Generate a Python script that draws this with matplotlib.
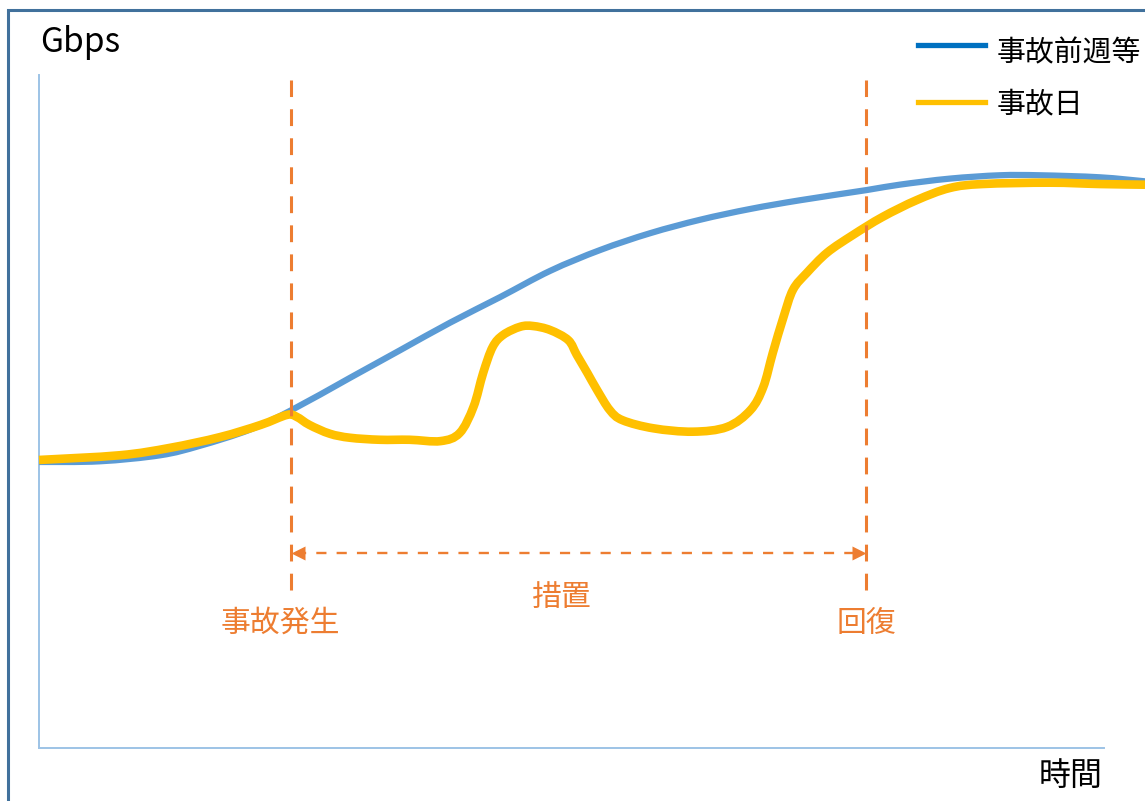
import matplotlib
matplotlib.use("Agg")
import numpy as np
import matplotlib.pyplot as plt
from matplotlib.lines import Line2D
from matplotlib.patches import Rectangle, PathPatch
from matplotlib.path import Path

plt.rcParams['font.family'] = ['Noto Sans CJK JP', 'DejaVu Sans']

# ---- data (time in arbitrary units 0-100, traffic in arbitrary Gbps units) ----
baseline_x = [0, 5.7, 11.4, 15.1, 19.8, 23.7, 29.2, 33.9, 38.6, 43.3, 48.0, 52.7,
              57.4, 62.1, 66.8, 71.5, 77.7, 80.8, 85.5, 90.2, 94.0, 99.6, 103.85]
baseline_y = [42.5, 42.6, 43.5, 44.9, 47.3, 50.2, 55.0, 59.1, 63.2, 67.0, 70.9, 74.0,
              76.5, 78.5, 80.1, 81.4, 82.9, 83.7, 84.6, 85.1, 85.1, 84.8, 84.2]

incident_x = [0, 7.6, 12.3, 17.0, 20.8, 23.3, 24.2, 25.4, 27.3, 29.2, 32.0, 34.8, 37.7,
              39.5, 40.8, 41.7, 42.6, 43.6, 45.2, 46.4, 48.0, 49.7, 50.5, 51.5, 52.4,
              53.6, 54.8, 57.7, 61.4, 64.6, 66.8, 68.0, 68.9, 69.9, 70.8, 72.1, 74.0,
              76.4, 79.2, 82.4, 85.5, 88.6, 94.9, 99.6, 103.85]
incident_y = [42.8, 43.5, 44.6, 46.2, 48.0, 49.5, 49.2, 48.0, 46.7, 46.1, 45.8, 45.8, 45.6,
              46.8, 50.7, 55.7, 59.6, 61.4, 62.6, 62.7, 62.1, 60.6, 58.4, 55.7, 53.2,
              50.2, 48.7, 47.5, 47.0, 47.7, 50.2, 53.6, 58.7, 64.0, 68.1, 70.6, 73.6,
              76.2, 78.9, 81.4, 83.2, 83.8, 84.0, 83.8, 83.7]

event_x = [23.66, 77.65]          # 事故発生, 回復
event_labels = ['事故発生', '回復']
measure_label = '措置'
series_labels = ['事故前週等', '事故日']
y_label = 'Gbps'
x_label = '時間'

orange = '#ED7D31'
blue = '#5B9BD5'
blue_legend = '#0070C0'
yellow = '#FFC000'
spine_c = '#9DC3E6'


def smooth_path(xs, ys):
    """Smoothed-line rendering (Catmull-Rom as cubic Bezier) through the data points."""
    p = np.column_stack([xs, ys]).astype(float)
    n = len(p)
    verts = [p[0]]
    codes = [Path.MOVETO]
    for i in range(n - 1):
        p0 = p[i - 1] if i > 0 else p[i]
        p1, p2 = p[i], p[i + 1]
        p3 = p[i + 2] if i + 2 < n else p[i + 1]
        c1 = p1 + (p2 - p0) / 6.0
        c2 = p2 - (p3 - p1) / 6.0
        verts += [c1, c2, p2]
        codes += [Path.CURVE4] * 3
    return Path(verts, codes)


W, H = 1145, 801
fig = plt.figure(figsize=(W / 100, H / 100), dpi=100)
ax = fig.add_axes([39 / W, (H - 748) / H, (W - 39) / W, (748 - 75) / H])
ax.set_xlim(0, 103.85)
ax.set_ylim(0, 100)
ax.set_xticks([])
ax.set_yticks([])
for s in ['top', 'right']:
    ax.spines[s].set_visible(False)
for s in ['left', 'bottom']:
    ax.spines[s].set_color(spine_c)
    ax.spines[s].set_linewidth(1.4)
ax.spines['bottom'].set_bounds(0, 100)
ax.patch.set_alpha(0)

ax.add_patch(PathPatch(smooth_path(baseline_x, baseline_y), fill=False, ec=blue, lw=4.5,
                       capstyle='butt', joinstyle='round', zorder=3, clip_on=False))
ax.add_patch(PathPatch(smooth_path(incident_x, incident_y), fill=False, ec=yellow, lw=6.2,
                       capstyle='butt', joinstyle='round', zorder=4, clip_on=False))

# event vertical dashed lines
for xv in event_x:
    ax.plot([xv, xv], [23.5, 99.3], color=orange, lw=2.2, dashes=(5.5, 4), zorder=5)

# measure arrow
ya = 29.0
ax.plot([event_x[0] + 0.5, event_x[1] - 0.5], [ya, ya], color=orange, lw=1.7, dashes=(4.3, 4.3), zorder=5)
ax.plot([event_x[0] + 0.62], [ya], marker='<', ms=10, color=orange, mec='none', zorder=6)
ax.plot([event_x[1] - 0.62], [ya], marker='>', ms=10, color=orange, mec='none', zorder=6)

ax.text(22.7, 18.5, event_labels[0], color=orange, fontsize=21.5, ha='center', va='center')
ax.text(event_x[1], 18.5, event_labels[1], color=orange, fontsize=21.5, ha='center', va='center')
ax.text(49.1, 22.4, measure_label, color=orange, fontsize=21.5, ha='center', va='center')

# axis labels
fig.text(40 / W, 1 - 43 / H, y_label, fontsize=24, ha='left', va='center', color='black')
fig.text(1103 / W, 1 - 776 / H, x_label, fontsize=23, ha='right', va='center', color='black')

# legend (drawn in figure coordinates)
legend_rows = [(1 - 45 / H, 1 - 53 / H), (1 - 102 / H, 1 - 104 / H)]
for (yl, yt), c, lab in zip(legend_rows, [blue_legend, yellow], series_labels):
    fig.add_artist(Line2D([918 / W, 985 / W], [yl, yl], color=c, lw=3.8, transform=fig.transFigure))
    fig.text(997 / W, yt, lab, fontsize=20.8, ha='left', va='center', color='black')

# outer frame
fig.add_artist(Rectangle((8 / W, -0.1), 2.0, (H - 10) / H + 0.1, transform=fig.transFigure,
                         fill=False, ec='#41719C', lw=2.2, zorder=10))

fig.savefig('out.png', dpi=100)
